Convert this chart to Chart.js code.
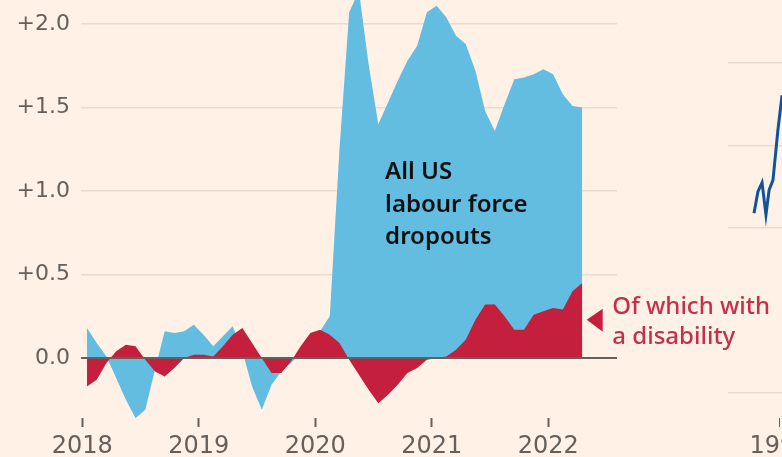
<!DOCTYPE html>
<html lang="en">
<head>
<meta charset="UTF-8">
<title>US labour force dropouts</title>
<style>
  html, body { margin: 0; padding: 0; background: #fff1e5; }
  .wrap { position: relative; width: 782px; height: 457px; overflow: hidden; }
  #side { position: absolute; left: 728px; top: 0; z-index: 0; }
  #main { position: absolute; left: 0; top: 0; z-index: 1; }
</style>
</head>
<body>
<div class="wrap">
  <canvas id="side" width="54" height="457"></canvas>
  <canvas id="main" width="782" height="457"></canvas>
</div>

<script src="https://cdn.jsdelivr.net/npm/chart.js"></script>
<script>
// monthly, Jan 2018 - Apr 2022 (millions, change vs pre-pandemic)
const months = [
  '2018-01','2018-02','2018-03','2018-04','2018-05','2018-06','2018-07','2018-08','2018-09','2018-10','2018-11','2018-12',
  '2019-01','2019-02','2019-03','2019-04','2019-05','2019-06','2019-07','2019-08','2019-09','2019-10','2019-11','2019-12',
  '2020-01','2020-02','2020-03','2020-04','2020-05','2020-06','2020-07','2020-08','2020-09','2020-10','2020-11','2020-12',
  '2021-01','2021-02','2021-03','2021-04','2021-05','2021-06','2021-07','2021-08','2021-09','2021-10','2021-11','2021-12',
  '2022-01','2022-02','2022-03','2022-04'
];
const allDropouts = [
  0.18, 0.09, 0.01, -0.12, -0.25, -0.36, -0.31, -0.07, 0.16, 0.15, 0.16, 0.20,
  0.14, 0.07, 0.13, 0.19, 0.04, -0.17, -0.31, -0.16, -0.08, -0.03, 0.03, 0.10,
  0.16, 0.25, 1.25, 2.07, 2.20, 1.76, 1.40, 1.53, 1.66, 1.78, 1.87, 2.07,
  2.11, 2.04, 1.93, 1.88, 1.72, 1.48, 1.36, 1.52, 1.67, 1.68, 1.70, 1.73,
  1.70, 1.58, 1.51, 1.50
];
const withDisability = [
  -0.17, -0.13, -0.03, 0.04, 0.08, 0.07, -0.01, -0.08, -0.11, -0.06, 0.00, 0.02,
  0.02, 0.01, 0.07, 0.14, 0.18, 0.09, 0.00, -0.09, -0.09, -0.02, 0.07, 0.15,
  0.17, 0.14, 0.09, -0.01, -0.10, -0.19, -0.27, -0.22, -0.16, -0.09, -0.06, -0.01,
  0.00, 0.01, 0.05, 0.11, 0.23, 0.32, 0.32, 0.25, 0.17, 0.17, 0.26, 0.28,
  0.30, 0.29, 0.40, 0.45
];
const yTickValues = [0, 0.5, 1, 1.5, 2];
const yTickLabels = ['0.0', '+0.5', '+1.0', '+1.5', '+2.0'];
const xTickValues = [2018, 2019, 2020, 2021, 2022];
const xTickLabels = ['2018', '2019', '2020', '2021', '2022'];

// the neighbouring panel, only its left edge is in frame
const sideX = [1989.0, 1989.15, 1989.31, 1989.46, 1989.58, 1989.73, 1989.92, 1990.08, 1990.23];
const sideValues = [2.18, 2.44, 2.55, 2.16, 2.46, 2.58, 3.19, 3.61, 4.04];
const sideYTicks = [0, 1, 2, 3, 4];
const sideXTicks = [1990];
const sideXLabels = ['1990'];

const paper = '#fff1e5';
const gridColor = '#e9dccf';
const axisGrey = '#66605c';
const skyBlue = '#62bde0';
const crimson = '#c41f3d';
const labelRed = '#c4304a';
const yFont = { family: '"DejaVu Sans", sans-serif', size: 22 };
const xFont = { family: '"DejaVu Sans", sans-serif', size: 24 };

// month string -> decimal year, placed mid month
function monthPos(m) {
  const parts = m.split('-');
  return parseInt(parts[0]) + (parseInt(parts[1]) - 0.5) / 12;
}

const annotations = {
  id: 'annotations',
  afterDatasetsDraw(chart) {
    const ctx = chart.ctx;
    const x = chart.scales.x;
    const y = chart.scales.y;
    const area = chart.chartArea;
    ctx.save();

    // zero line on top of the areas
    const y0 = y.getPixelForValue(0);
    ctx.strokeStyle = axisGrey;
    ctx.lineWidth = 2;
    ctx.beginPath();
    ctx.moveTo(area.left, y0);
    ctx.lineTo(area.right, y0);
    ctx.stroke();

    // label inside the blue area
    ctx.fillStyle = '#111';
    ctx.font = '600 24px "Noto Sans", sans-serif';
    ctx.textAlign = 'left';
    ctx.textBaseline = 'alphabetic';
    const lx = x.getPixelForValue(2020.6);
    const ly = y.getPixelForValue(1.07);
    ['All US', 'labour force', 'dropouts'].forEach((t, i) => ctx.fillText(t, lx, ly + i * 32.5));

    // red label to the right of the series end
    const rx = x.getPixelForValue(2022.55);
    const ry = y.getPixelForValue(0.263);
    ctx.fillStyle = paper;
    ctx.fillRect(rx - 6, ry - 22, chart.width - rx + 6, 60);
    const tx = x.getPixelForValue(2022.33);
    const ty = y.getPixelForValue(0.23);
    ctx.fillStyle = crimson;
    ctx.beginPath();
    ctx.moveTo(tx, ty);
    ctx.lineTo(tx + 16, ty - 11);
    ctx.lineTo(tx + 16, ty + 12);
    ctx.closePath();
    ctx.fill();
    ctx.fillStyle = labelRed;
    ctx.font = '500 24px "Noto Sans", sans-serif';
    ctx.fillText('Of which with', rx, ry);
    ctx.fillText('a disability', rx, ry + 30);
    ctx.restore();
  }
};

new Chart(document.getElementById('main'), {
  type: 'line',
  data: {
    datasets: [
      {
        label: 'All US labour force dropouts',
        data: months.map((m, i) => ({ x: monthPos(m), y: allDropouts[i] })),
        backgroundColor: skyBlue,
        borderWidth: 0,
        pointRadius: 0,
        tension: 0,
        fill: 'origin',
        order: 2
      },
      {
        label: 'Of which with a disability',
        data: months.map((m, i) => ({ x: monthPos(m), y: withDisability[i] })),
        backgroundColor: crimson,
        borderWidth: 0,
        pointRadius: 0,
        tension: 0,
        fill: 'origin',
        order: 1
      }
    ]
  },
  options: {
    responsive: false,
    animation: false,
    layout: { padding: { left: 0, right: 165, top: 0, bottom: 0 } },
    plugins: { legend: { display: false }, tooltip: { enabled: false } },
    scales: {
      x: {
        type: 'linear',
        min: 2017.99,
        max: 2022.59,
        afterBuildTicks: s => { s.ticks = xTickValues.map(v => ({ value: v })); },
        afterFit: s => { s.height = 39; s.paddingLeft = 0; s.paddingRight = 0; },
        grid: { drawOnChartArea: false, drawTicks: true, tickLength: 9, tickWidth: 2, tickColor: axisGrey },
        border: { display: false },
        ticks: {
          padding: 5,
          maxRotation: 0,
          autoSkip: false,
          color: axisGrey,
          font: xFont,
          callback: (v, i) => xTickLabels[i]
        }
      },
      y: {
        min: -0.359,
        max: 2.144,
        afterBuildTicks: s => { s.ticks = yTickValues.map(v => ({ value: v })); },
        afterFit: s => { s.width = 81; s.paddingTop = 0; s.paddingBottom = 0; },
        grid: { color: gridColor, lineWidth: 1.5, drawTicks: false },
        border: { display: false },
        ticks: {
          padding: 11,
          color: axisGrey,
          font: yFont,
          callback: (v, i) => yTickLabels[i]
        }
      }
    }
  },
  plugins: [annotations]
});

new Chart(document.getElementById('side'), {
  type: 'line',
  data: {
    datasets: [{
      data: sideX.map((v, i) => ({ x: v, y: sideValues[i] })),
      borderColor: '#0f5499',
      borderWidth: 3,
      pointRadius: 0,
      tension: 0,
      fill: false
    }]
  },
  options: {
    responsive: false,
    animation: false,
    layout: { padding: 0 },
    plugins: { legend: { display: false }, tooltip: { enabled: false } },
    scales: {
      x: {
        type: 'linear',
        min: 1988,
        max: 1990.077,
        afterBuildTicks: s => { s.ticks = sideXTicks.map(v => ({ value: v })); },
        afterFit: s => { s.height = 39; s.paddingLeft = 0; s.paddingRight = 0; },
        grid: { drawOnChartArea: false, drawTicks: true, tickLength: 9, tickWidth: 1, tickColor: axisGrey },
        border: { display: false },
        ticks: {
          padding: 5,
          maxRotation: 0,
          autoSkip: false,
          color: axisGrey,
          font: xFont,
          callback: (v, i) => sideXLabels[i]
        }
      },
      y: {
        min: -0.303,
        max: 4.764,
        afterBuildTicks: s => { s.ticks = sideYTicks.map(v => ({ value: v })); },
        afterFit: s => { s.width = 0; s.paddingTop = 0; s.paddingBottom = 0; },
        grid: { color: gridColor, lineWidth: 1.5, drawTicks: false },
        border: { display: false },
        ticks: { display: false }
      }
    }
  }
});
</script>
</body>
</html>
